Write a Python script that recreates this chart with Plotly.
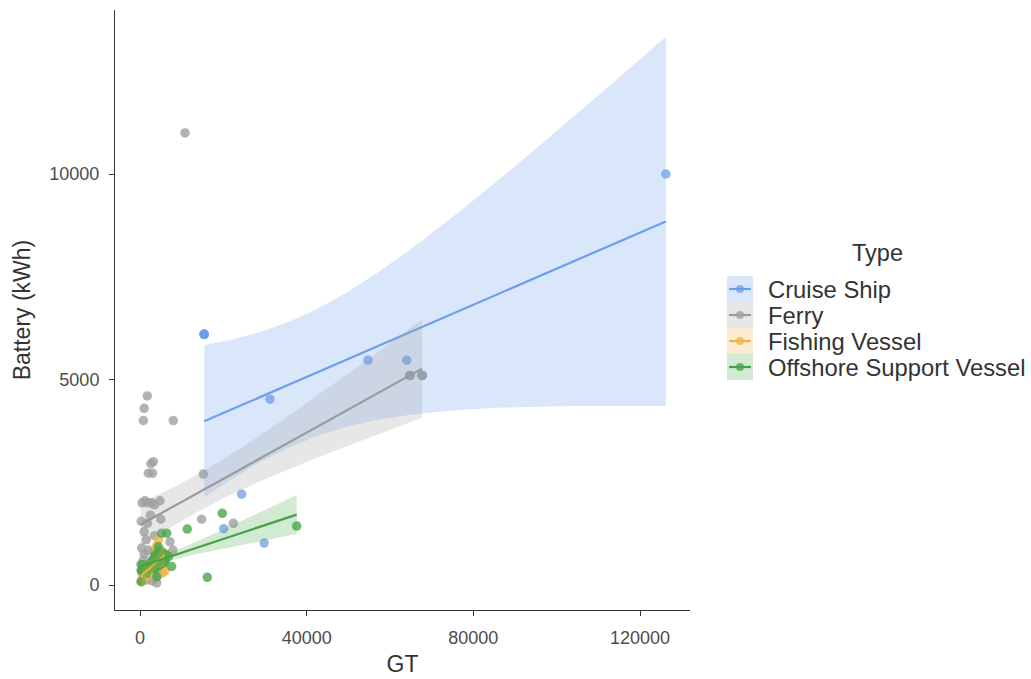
import numpy as np
import plotly.graph_objects as go

# ---------------- data ----------------
types = ["Cruise Ship", "Ferry", "Fishing Vessel", "Offshore Support Vessel"]

cruise_gt = [15400, 15400, 15400, 15400, 31200, 54700, 64000, 24400, 20100, 29800, 126200]
cruise_kwh = [6100, 6100, 6100, 6100, 4520, 5470, 5470, 2210, 1370, 1020, 10000]

ferry_gt = [10800, 1750, 1000, 800, 8000, 3200, 2600, 2000, 3000, 15200, 14800, 22400,
            64800, 64800, 64800, 64800, 67700, 67700, 67700, 67700, 7200, 7900, 4800, 500,
            1200, 2000, 2800, 3500, 300, 1000, 1500, 400, 1000, 200, 600, 1500,
            3000, 4000, 2500, 1800, 3500, 6000, 5000, 500, 1200, 2200, 2800, 3800,
            800, 2000, 4500, 1600, 3300, 300]
ferry_kwh = [11000, 4600, 4300, 4000, 4000, 3000, 2950, 2720, 2720, 2700, 1600, 1500,
             5100, 5100, 5100, 5100, 5100, 5100, 5100, 5100, 1050, 850, 2050, 2000,
             2050, 2000, 2000, 1950, 1550, 1300, 1100, 900, 750, 500, 250, 120,
             100, 50, 1700, 1500, 1200, 600, 1600, 100, 300, 450, 600, 350,
             600, 850, 250, 500, 800, 350]

fish_gt = [400, 800, 1500, 2000, 2500, 3000, 3500, 4000, 4400, 5200, 5500, 6000, 4800, 3800]
fish_kwh = [100, 250, 200, 350, 300, 550, 450, 950, 1100, 780, 300, 350, 600, 800]

osv_gt = [37600, 19750, 11350, 16150,
          240, 300, 500, 800, 1200, 1600, 2000, 2500, 3000, 3200,
          3600, 4000, 4400, 4400, 5200, 5200, 5600, 6400, 6800, 7600,
          3000, 3500, 4000, 4800, 5000, 2800, 3800, 4600, 6000, 5400,
          2200, 1000, 6200, 4200]
osv_kwh = [1435, 1745, 1360, 187,
           80, 350, 500, 350, 350, 285, 475, 500, 450, 610,
           730, 200, 450, 930, 810, 1260, 530, 1260, 690, 450,
           500, 400, 500, 500, 600, 550, 700, 800, 575, 775,
           400, 450, 750, 600]

x_ticks = [0, 40000, 80000, 120000]
y_ticks = [0, 5000, 10000]

# ---------------- styling ----------------
line_cols = ["#6d9eeb", "#9a9a9a", "#f1b347", "#45a145"]
pt_cols = ["rgba(109,158,235,0.75)", "rgba(160,160,160,0.8)", "rgba(241,179,71,0.8)", "rgba(74,166,74,0.8)"]
band_cols = ["rgba(109,158,235,0.25)", "rgba(160,160,160,0.25)", "rgba(241,179,71,0.25)", "rgba(74,166,74,0.25)"]
FONT = "Arial, Liberation Sans, sans-serif"

groups = [(cruise_gt, cruise_kwh), (ferry_gt, ferry_kwh), (fish_gt, fish_kwh), (osv_gt, osv_kwh)]


def t_quantile(df, z=1.959964):
    # Cornish-Fisher expansion of the Student t 97.5% quantile
    return (z + (z**3 + z) / (4 * df) + (5 * z**5 + 16 * z**3 + 3 * z) / (96 * df**2)
            + (3 * z**7 + 19 * z**5 + 17 * z**3 - 15 * z) / (384 * df**3))


def lm_band(x, y, n=80):
    x = np.asarray(x, float)
    y = np.asarray(y, float)
    b, a = np.polyfit(x, y, 1)
    res = y - (a + b * x)
    df = len(x) - 2
    s = np.sqrt(np.sum(res**2) / df)
    xm = x.mean()
    sxx = np.sum((x - xm) ** 2)
    xs = np.linspace(x.min(), x.max(), n)
    fit = a + b * xs
    se = s * np.sqrt(1 / len(x) + (xs - xm) ** 2 / sxx)
    t = t_quantile(df)
    return xs, fit, fit - t * se, fit + t * se


fig = go.Figure()

# points first
for (gx, gy), pc in zip(groups, pt_cols):
    fig.add_trace(go.Scatter(x=gx, y=gy, mode="markers",
                             marker=dict(size=9.5, color=pc, line=dict(width=0)),
                             showlegend=False, hoverinfo="skip"))

# smooth layers (ribbon then line per group)
for (gx, gy), lc, bc in zip(groups, line_cols, band_cols):
    xs, fit, lo, hi = lm_band(gx, gy)
    fig.add_trace(go.Scatter(x=np.concatenate([xs, xs[::-1]]), y=np.concatenate([hi, lo[::-1]]),
                             mode="lines", fill="toself", fillcolor=bc, line=dict(width=0),
                             showlegend=False, hoverinfo="skip"))
    fig.add_trace(go.Scatter(x=xs, y=fit, mode="lines", line=dict(color=lc, width=2.2),
                             showlegend=False, hoverinfo="skip"))

# ---------------- manual legend (paper coords) ----------------
L, R, T, B = 115, 341, 10, 69
W, H = 1031, 679
pw, ph = W - L - R, H - T - B


def px(xp):
    return (xp - L) / pw


def py(yp):
    return (H - B - yp) / ph


shapes = []
annotations = []
annotations.append(dict(x=px(877), y=py(253), xref="paper", yref="paper", text="Type",
                        showarrow=False, xanchor="center", yanchor="middle",
                        font=dict(family=FONT, size=23.5, color="#333333")))
for i, name in enumerate(types):
    cy = 289 + 26 * i
    shapes.append(dict(type="rect", xref="paper", yref="paper",
                       x0=px(727), x1=px(753), y0=py(cy - 13), y1=py(cy + 13),
                       fillcolor=band_cols[i], line=dict(width=0), layer="above"))
    shapes.append(dict(type="line", xref="paper", yref="paper",
                       x0=px(729), x1=px(751), y0=py(cy), y1=py(cy),
                       line=dict(color=line_cols[i], width=2.2), layer="above"))
    shapes.append(dict(type="circle", xref="paper", yref="paper",
                       x0=px(736), x1=px(744), y0=py(cy - 4), y1=py(cy + 4),
                       fillcolor=pt_cols[i], line=dict(width=0), layer="above"))
    annotations.append(dict(x=px(766), y=py(cy), xref="paper", yref="paper", text=name,
                            showarrow=False, xanchor="left", yanchor="middle",
                            font=dict(family=FONT, size=23.8, color="#333333")))

fig.update_layout(
    width=W, height=H, autosize=False,
    margin=dict(l=L, r=R, t=T, b=B, pad=0, autoexpand=False),
    paper_bgcolor="white", plot_bgcolor="white",
    showlegend=False,
    shapes=shapes, annotations=annotations,
    font=dict(family=FONT),
)
fig.update_xaxes(range=[-6000, 132000], tickvals=x_ticks, ticktext=[str(v) for v in x_ticks],
                 automargin=False,
                 showgrid=False, zeroline=False, showline=True, linecolor="#333333", linewidth=1,
                 ticks="outside", ticklen=5, tickcolor="#333333", ticklabelstandoff=6,
                 tickfont=dict(family=FONT, size=18, color="#4d4d4d"),
                 title=dict(text="GT", font=dict(family=FONT, size=23, color="#333333"), standoff=9))
fig.update_yaxes(range=[-608, 13990], tickvals=y_ticks, ticktext=[str(v) for v in y_ticks],
                 automargin=False,
                 showgrid=False, zeroline=False, showline=True, linecolor="#333333", linewidth=1,
                 ticks="outside", ticklen=5, tickcolor="#333333", ticklabelstandoff=6,
                 tickfont=dict(family=FONT, size=18, color="#4d4d4d"),
                 title=dict(text="Battery (kWh)", font=dict(family=FONT, size=23, color="#333333"), standoff=12))

fig.write_html("out.html")
